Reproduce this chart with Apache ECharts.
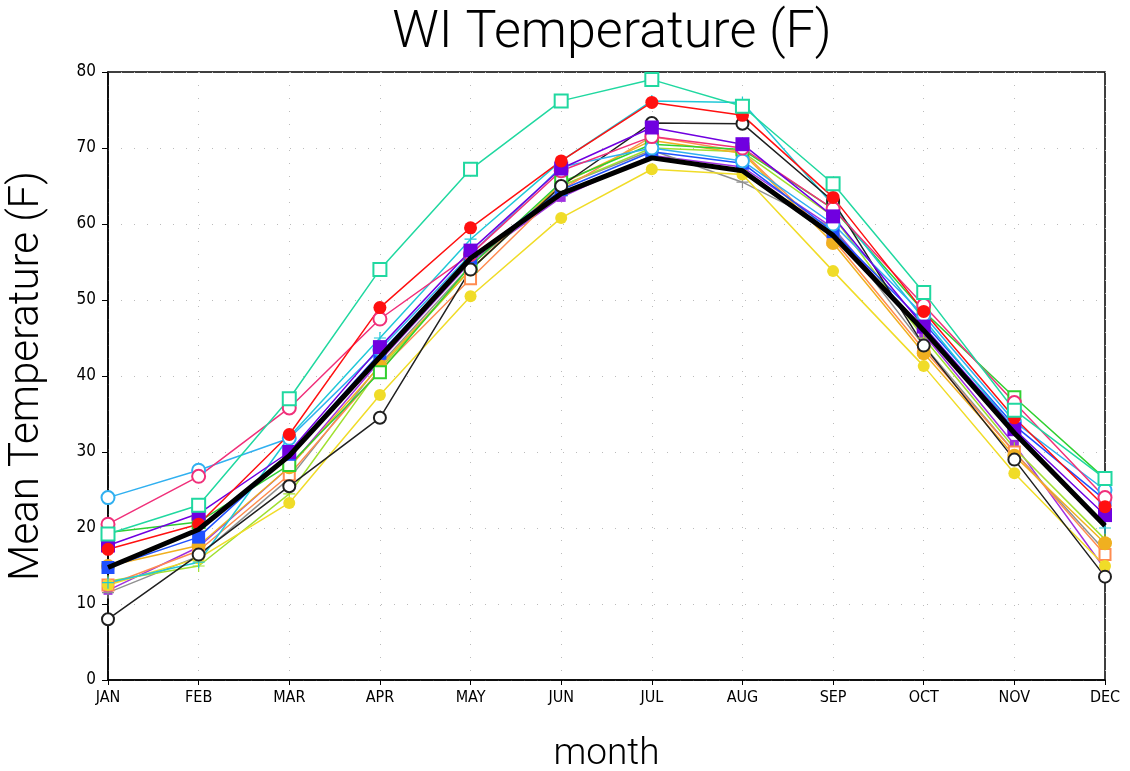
<!DOCTYPE html>
<html><head><meta charset="utf-8">
<script src="https://cdn.jsdelivr.net/npm/echarts@6/dist/echarts.min.js"></script>
<style>html,body{margin:0;padding:0;background:#fff}#c{width:1130px;height:771px}</style>
</head><body><div id="c"></div>
<script>
const months = ['JAN','FEB','MAR','APR','MAY','JUN','JUL','AUG','SEP','OCT','NOV','DEC'];
const yTicks = [0,10,20,30,40,50,60,70,80];
const titleText = 'WI Temperature (F)';
const yName = 'Mean Temperature (F)';
const xName = 'month';

const sAqua   = [19.2,23.0,37.0,54.0,67.2,76.2,79.0,75.5,65.3,51.0,35.5,26.5];
const sRed    = [17.2,20.5,32.3,49.0,59.5,68.3,76.0,74.3,63.5,48.5,34.5,22.8];
const sPink   = [20.5,26.8,35.8,47.5,56.0,67.0,71.5,70.0,62.0,49.3,36.5,24.0];
const sSky    = [24.0,27.6,31.8,43.5,56.0,67.5,70.0,68.3,60.0,48.0,34.0,25.0];
const sBlackO = [8.0,16.5,25.5,34.5,54.0,65.0,73.3,73.2,63.0,44.0,29.0,13.6];
const sPurple = [17.7,21.9,30.0,43.8,56.5,67.3,72.7,70.5,61.0,46.5,33.0,21.7];
const sBlue   = [14.8,18.8,29.7,43.0,55.5,64.5,69.5,68.0,59.0,47.0,33.5,23.7];
const sGold   = [15.0,17.7,28.0,41.3,54.0,65.3,71.0,69.3,57.5,43.0,29.5,18.0];
const sYellow = [12.5,16.0,23.3,37.5,50.5,60.8,67.2,66.5,53.8,41.3,27.2,15.0];
const sOrange = [12.5,17.0,27.0,40.8,52.8,64.5,71.5,69.5,58.0,43.5,30.0,16.5];
const sGreen  = [19.4,20.8,28.3,40.5,54.5,65.5,70.5,69.8,62.0,48.5,37.2,26.5];
const sCyan   = [12.8,15.5,32.0,45.0,58.0,68.3,76.2,76.0,62.5,47.5,33.0,20.0];
const sLime   = [13.0,15.0,24.5,41.0,54.0,65.0,70.0,69.5,61.0,45.0,30.5,18.5];
const sGray   = [11.5,16.3,26.5,41.5,54.5,65.0,69.7,65.5,59.5,44.0,30.0,17.0];
const sViolet = [11.8,17.5,28.0,42.0,55.0,63.5,69.0,67.5,59.5,45.5,31.0,14.6];
const sMean   = [14.8,19.8,29.5,42.5,55.5,64.0,68.7,67.0,58.5,46.0,32.5,20.3];

const plus = 'path://M0,4.5L10,4.5L10,5.5L0,5.5Z M4.5,0L5.5,0L5.5,10L4.5,10Z';
const thinFont = "Roboto, 'DejaVu Sans'";

function ser(name, data, color, symbol, size, width, z) {
  const empty = symbol.startsWith('empty');
  return {
    name, type: 'line', data, z: z || 2,
    symbol, symbolSize: size,
    showAllSymbol: true,
    lineStyle: { color, width: width || 1.5 },
    itemStyle: { color, borderColor: color, borderWidth: empty ? 1.8 : 0 },
    emphasis: { disabled: true },
    animation: false
  };
}

const series = [
  ser('violet', sViolet, '#a030e0', 'rect', 9),
  ser('gray', sGray, '#909090', plus, 12),
  ser('lime', sLime, '#a0e030', plus, 12),
  ser('orange', sOrange, '#ff8c50', 'emptyRect', 11),
  ser('yellow', sYellow, '#f0dc28', 'circle', 12),
  ser('gold', sGold, '#f0b020', 'circle', 14),
  ser('green', sGreen, '#30d030', 'emptyRect', 12),
  ser('blue', sBlue, '#1f50ff', 'rect', 13),
  ser('cyan', sCyan, '#20c8d8', plus, 12),
  ser('blackO', sBlackO, '#202020', 'emptyCircle', 12),
  ser('sky', sSky, '#30b0f0', 'emptyCircle', 13),
  ser('pink', sPink, '#f0307a', 'emptyCircle', 13),
  ser('purple', sPurple, '#7000e0', 'rect', 14),
  ser('red', sRed, '#ff1010', 'circle', 13),
  ser('aqua', sAqua, '#20d8a0', 'emptyRect', 13),
  {
    name: 'mean', type: 'line', data: sMean, z: 5, symbol: 'none',
    lineStyle: { color: '#000', width: 5 }, emphasis: { disabled: true }, animation: false
  }
];

const chart = echarts.init(document.getElementById('c'), null, { renderer: 'canvas' });
chart.setOption({
  backgroundColor: '#fff',
  animation: false,
  title: {
    text: titleText, left: 607, top: 3, textAlign: 'center',
    textStyle: { fontFamily: thinFont, fontWeight: 300, fontSize: 52, color: '#000' }
  },
  grid: { left: 108, right: 25, top: 72, bottom: 91, show: true, borderColor: '#000', borderWidth: 1.5,
    containLabel: false, outerBoundsMode: 'none' },
  xAxis: {
    type: 'category', data: months, boundaryGap: false,
    name: xName, nameLocation: 'middle', nameGap: 56,
    nameTextStyle: { fontFamily: thinFont, fontWeight: 300, fontSize: 37, color: '#000' },
    axisLine: { lineStyle: { color: '#000', width: 1.5 } },
    axisTick: { show: true, inside: false, length: 5, lineStyle: { color: '#000' }, alignWithLabel: true },
    axisLabel: { fontFamily: 'DejaVu Sans Condensed', fontSize: 16, color: '#000', margin: 10, interval: 0 },
    splitLine: { show: true, lineStyle: { color: '#bbb', type: [1, 12], width: 1 } }
  },
  yAxis: {
    type: 'value', min: 0, max: 80, interval: 10,
    name: yName, nameLocation: 'middle', nameGap: 60, nameRotate: 90,
    nameTextStyle: { fontFamily: thinFont, fontWeight: 300, fontSize: 42, color: '#000' },
    axisLine: { show: true, lineStyle: { color: '#000', width: 1.5 } },
    axisTick: { show: true, length: 6, lineStyle: { color: '#000' } },
    axisLabel: { fontFamily: 'DejaVu Sans Condensed', fontSize: 17, color: '#000', margin: 12,
      formatter: v => yTicks.includes(v) ? String(v) : '' },
    splitLine: { show: true, lineStyle: { color: '#bbb', type: [1, 12], width: 1 } }
  },
  series
});
</script></body></html>
